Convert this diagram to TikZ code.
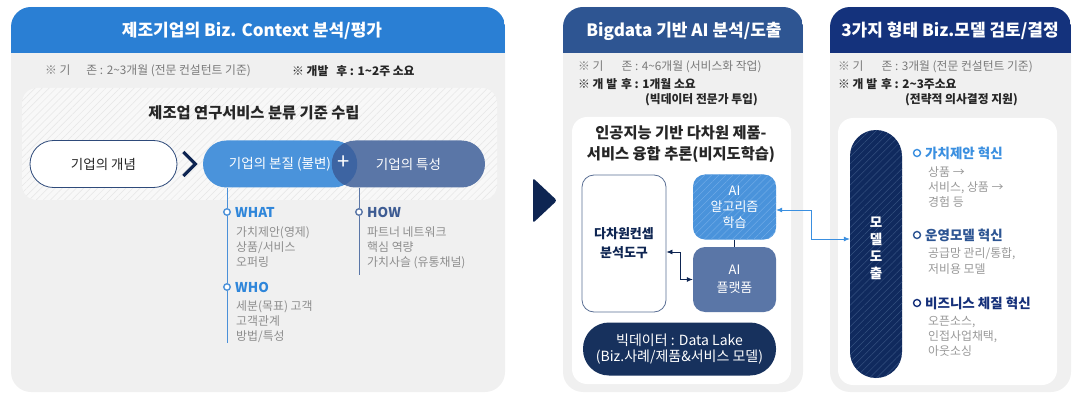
\documentclass[tikz,border=0pt]{standalone}
\usepackage{fontspec}
\setmainfont{Noto Sans CJK KR}
\usepackage{tikz}
\usetikzlibrary{arrows,arrows.meta,positioning,calc,patterns.meta}
\definecolor{hdrA}{HTML}{2A7FD4}
\definecolor{hdrB}{HTML}{2E5592}
\definecolor{hdrC}{HTML}{14327C}
\definecolor{panelbg}{HTML}{F0F0F0}
\definecolor{hatchbg}{HTML}{F8F8F8}
\definecolor{hatchL}{HTML}{E6E6E6}
\definecolor{pillA}{HTML}{4A93DB}
\definecolor{pillB}{HTML}{5A76A7}
\definecolor{pillC}{HTML}{3D64A2}
\definecolor{navyD}{HTML}{0E2552}
\definecolor{lakeC}{HTML}{17315D}
\definecolor{deriveC}{HTML}{102A5E}
\definecolor{deriveL}{HTML}{34507F}
\definecolor{algoL}{HTML}{6EAAE6}
\definecolor{lineA}{HTML}{4A90D9}
\definecolor{lineB}{HTML}{5A76A7}
\definecolor{whatC}{HTML}{2F86DA}
\definecolor{howC}{HTML}{3E5C93}
\definecolor{grayT}{HTML}{8E8E8E}
\definecolor{grayL}{HTML}{999999}
\definecolor{infoT}{HTML}{7A7A7A}
\definecolor{boxL}{HTML}{5A6F94}
\definecolor{conceptL}{HTML}{2E4A7A}
\definecolor{bulA}{HTML}{3A8FE0}
\definecolor{bulB}{HTML}{2D5593}
\definecolor{bulC}{HTML}{15307A}
\definecolor{connB}{HTML}{3A8FE0}

\begin{document}
\begin{tikzpicture}[x=1pt,y=-1pt,
  hdr/.style={text=white,font=\bfseries\fontsize{17}{20}\selectfont},
  info/.style={anchor=west,inner sep=0pt,text=infoT,font=\fontsize{11.8}{14}\selectfont},
  infob/.style={info,text=black!85,font=\bfseries\fontsize{11.8}{14}\selectfont},
  sub/.style={text=black!85,align=center,font=\bfseries\fontsize{15.3}{21}\selectfont},
  pill/.style={rounded corners=23.5pt,minimum height=47pt,inner sep=0pt,font=\fontsize{13.5}{16}\selectfont},
  box/.style={rounded corners=12pt,inner sep=0pt,align=center,font=\fontsize{13}{16}\selectfont},
  dot/.style={circle,draw,fill=white,line width=1.4pt,inner sep=0pt,minimum size=6.5pt},
  tag/.style={anchor=west,inner sep=0pt,font=\bfseries\fontsize{13.5}{16}\selectfont},
  items/.style={anchor=north west,inner sep=0pt,align=left,text=grayT,font=\fontsize{11.9}{15}\selectfont},
  hatch/.style={pattern={Lines[angle=45,distance=5pt,line width=0.5pt]},pattern color=#1},
  biarrow/.style={line width=0.8pt,{Latex[length=6pt,width=5pt]}-{Latex[length=6pt,width=5pt]}},
]
\useasboundingbox (0,0) rectangle (1081,406);

\foreach \xa/\xb/\hc in {11/505/hdrA,563/803/hdrB,830/1071/hdrC}{
  \fill[panelbg,rounded corners=20pt] (\xa,7) rectangle (\xb,392);
  \begin{scope}
    \clip[rounded corners=20pt] (\xa,7) rectangle (\xb,392);
    \fill[\hc] (\xa,7) rectangle (\xb,53);
  \end{scope}
}
\node[hdr] (head1) at (252,31) {제조기업의 Biz. Context 분석/평가};
\node[hdr] (head2) at (684,31) {Bigdata 기반 AI 분석/도출};
\node[hdr] (head3) at (950,31) {3가지 형태 Biz.모델 검토/결정};

\node[info] (old1) at (45,71) {※ 기\hspace{16pt}존 : 2\textasciitilde3개월 (전문 컨설턴트 기준)};
\node[infob] (new1) at (292,71) {※ 개발\hspace{8pt}후 : 1\textasciitilde2주 소요};
\node[info] (old2) at (578,67) {※ 기\hspace{18pt}존 : 4\textasciitilde6개월 (서비스화 작업)};
\node[infob] (new2) at (578,84) {※ 개 발\hspace{4pt}후 : 1개월 소요};
\node[infob] (note2) at (645,100) {(빅데이터 전문가 투입)};
\node[info] (old3) at (838,67) {※ 기\hspace{18pt}존 : 3개월 (전문 컨설턴트 기준)};
\node[infob] (new3) at (838,84) {※ 개 발\hspace{4pt}후 : 2\textasciitilde3주소요};
\node[infob] (note3) at (905,100) {(전략적 의사결정 지원)};

% left panel
\fill[hatchbg,rounded corners=15pt] (22,88) rectangle (497,200);
\fill[hatch=hatchL,rounded corners=15pt] (22,88) rectangle (497,200);
\node[sub] (std) at (254,113) {제조업 연구서비스 분류 기준 수립};

\node[pill,draw=conceptL,line width=0.8pt,fill=white,text=black!85,minimum width=147pt] (concept) at (103.5,164) {기업의 개념};
\node[pill,fill=pillA,text=white,minimum width=154pt] (essence) at (280,164) {기업의 본질 (불변)\hspace{10pt}};
\node[pill,fill=pillB,text=white,minimum width=153pt] (trait) at (408.5,164) {기업의 특성};
\begin{scope}
  \clip[rounded corners=23.5pt] (essence.north west) rectangle (essence.south east);
  \fill[pillC,rounded corners=23.5pt] (trait.north west) rectangle (trait.south east);
\end{scope}
\node[text=white,font=\fontsize{22}{22}\selectfont] (plus) at (344,163) {+};
\draw[navyD,line width=3.2pt] ($(concept.east)+(6,-12)$) -- ++(12,12) -- ++(-12,12);

\node[dot,draw=lineA] (dwhat) at (227,212) {};
\node[dot,draw=lineA] (dwho) at (227,287) {};
\node[dot,draw=lineB] (dhow) at (359,212) {};
\coordinate (endwho) at (227,343);
\coordinate (endhow) at (359,275);
\draw[lineA,line width=1pt] (essence.south -| dwhat) -- (dwhat.north) (dwhat.south) -- (dwho.north) (dwho.south) -- (endwho);
\draw[lineB,line width=1pt] (trait.south -| dhow) -- (dhow.north) (dhow.south) -- (endhow);
\node[tag,text=whatC] (what) at (235,212) {WHAT};
\node[items] (whatlist) at (236,226) {가치제안(영제)\\상품/서비스\\오퍼링};
\node[tag,text=whatC] (who) at (235,287) {WHO};
\node[items] (wholist) at (236,300) {세분(목표) 고객\\고객관계\\방법/특성};
\node[tag,text=howC] (how) at (367,212) {HOW};
\node[items] (howlist) at (367,226) {파트너 네트워크\\핵심 역량\\가치사슬 (유통채널)};

\fill[navyD,rounded corners=2.5pt] (533,178) -- (557,200.5) -- (533,223) -- cycle;

% middle panel
\fill[white,rounded corners=15pt] (572,117) rectangle (791,384);
\node[sub] (ai) at (681,144.5) {인공지능 기반 다차원 제품-\\서비스 융합 추론(비지도학습)};
\node[box,draw=boxL,line width=0.8pt,fill=white,text=navyD,minimum width=84pt,minimum height=137pt,font=\bfseries\fontsize{13}{19}\selectfont] (tool) at (624,243.5) {다차원컨셉\\분석도구};
\node[box,preaction={fill=pillA},hatch=algoL,text=white,minimum width=83pt,minimum height=65pt] (algo) at (734.5,207) {AI\\알고리즘\\학습};
\node[box,fill=pillB,text=white,minimum width=83pt,minimum height=65pt,font=\fontsize{13}{18}\selectfont] (platform) at (734.5,279.5) {AI\\플랫폼};
\node[box,fill=lakeC,text=white,rounded corners=26pt,minimum width=193pt,minimum height=53pt,font=\fontsize{14}{16.5}\selectfont] (lake) at (679.5,349) {빅데이터 : Data Lake\\(Biz.사례/제품\&서비스 모델)};
\draw[navyD,line width=0.8pt] (algo) -- (platform);
\draw[navyD,biarrow] ($(tool.east)+(0,8.5)$) -- ++(14,0) |- (platform.west);

% right panel
\fill[white,rounded corners=15pt] (838,118) rectangle (1057,385);
\node[hatch=deriveL,preaction={fill=deriveC},rounded corners=26pt,minimum width=52pt,minimum height=248pt,inner sep=0pt] (derive) at (876,254) {};
\node[text=white,align=center,font=\bfseries\fontsize{13.5}{17}\selectfont] (derivetxt) at ($(derive)+(0,-6)$) {모\\델\\도\\출};
\draw[connB,biarrow] ($(algo.east)+(0,3)$) -- ++(35,0) |- ($(derive.west)+(0,-15)$);

\node[dot,draw=bulA,minimum size=7pt] (b1) at (917,153) {};
\node[tag,text=bulA] (inno1) at (925,153) {가치제안 혁신};
\node[items,text=grayL] (list1) at (928,166) {상품 →\\서비스, 상품 →\\경험 등};
\node[dot,draw=bulB,minimum size=7pt] (b2) at (917,235) {};
\node[tag,text=bulB] (inno2) at (925,235) {운영모델 혁신};
\node[items,text=grayL,font=\fontsize{11.9}{16.5}\selectfont] (list2) at (928,247) {공급망 관리/통합,\\저비용 모델};
\node[dot,draw=bulC,minimum size=7pt] (b3) at (917,303) {};
\node[tag,text=bulC] (inno3) at (925,303) {비즈니스 체질 혁신};
\node[items,text=grayL] (list3) at (928,316) {오픈소스,\\인접사업채택,\\아웃소싱};
\end{tikzpicture}
\end{document}
